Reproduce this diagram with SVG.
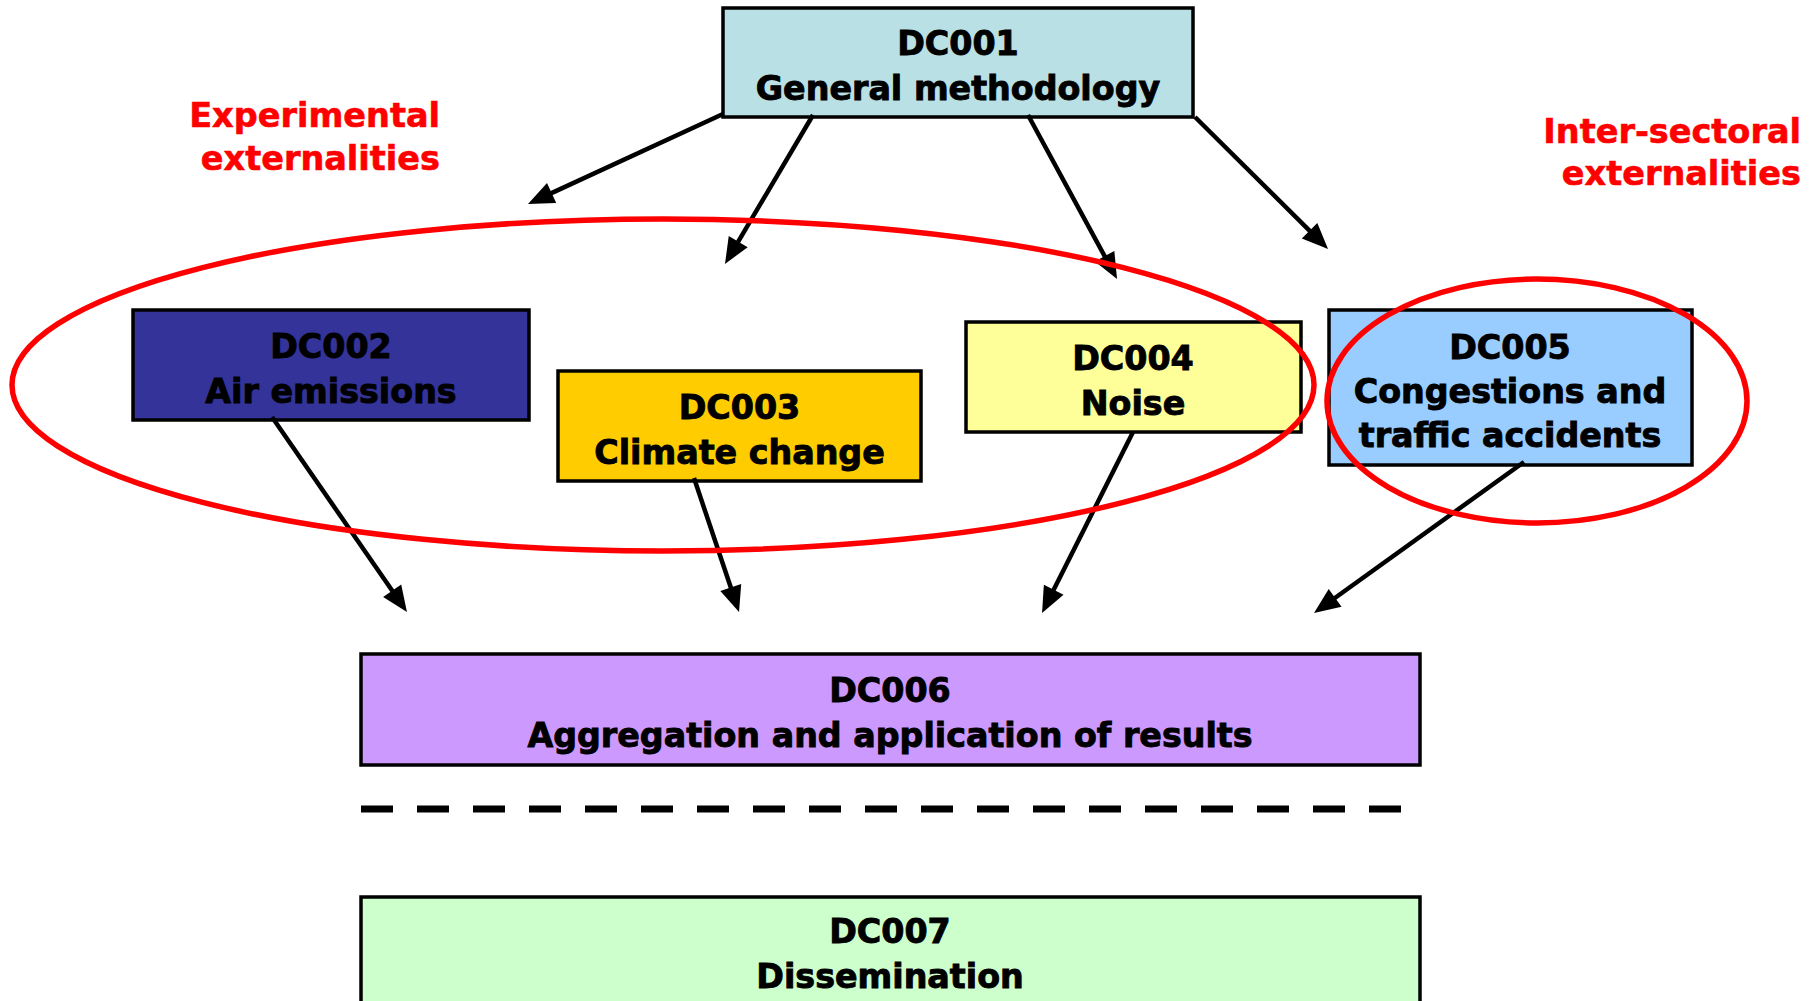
<svg xmlns="http://www.w3.org/2000/svg" width="1820" height="1001" viewBox="0 0 1820 1001">
<style>
.box{stroke:#000;stroke-width:3.5}
.t{font-family:"DejaVu Sans",Verdana,sans-serif;font-weight:bold;font-size:33.3px;text-anchor:middle;fill:#000;stroke:#000;stroke-width:0.9}
.r{font-family:"DejaVu Sans",Verdana,sans-serif;font-weight:bold;font-size:33.5px;text-anchor:end;fill:#FF0000;stroke:#FF0000;stroke-width:0.6}
.c{stroke:#000;stroke-width:4.5;fill:none;marker-end:url(#ah)}
.ell{fill:none;stroke:#FF0000;stroke-width:5.5}
</style>
<defs>
<marker id="ah" markerUnits="userSpaceOnUse" markerWidth="26" markerHeight="22" refX="2" refY="11" orient="auto" overflow="visible">
<path d="M0,0 L26,11 L0,22 z" fill="#000"/>
</marker>
</defs>
<rect width="1820" height="1001" fill="#fff"/>
<g id="DC001"><rect class="box" x="723" y="8" width="470" height="109" fill="#B9E0E4"/><text class="t" x="958" y="55">DC001</text><text class="t" x="958" y="100">General methodology</text></g>
<g id="DC002"><rect class="box" x="133" y="310" width="396" height="110" fill="#333399"/><text class="t" x="331" y="358">DC002</text><text class="t" x="331" y="403">Air emissions</text></g>
<g id="DC003"><rect class="box" x="558" y="371" width="363" height="110" fill="#FFCC00"/><text class="t" x="739.5" y="419">DC003</text><text class="t" x="739.5" y="464">Climate change</text></g>
<g id="DC004"><rect class="box" x="966" y="322" width="335" height="110" fill="#FFFF99"/><text class="t" x="1133" y="370">DC004</text><text class="t" x="1133" y="415">Noise</text></g>
<g id="DC005"><rect class="box" x="1329" y="310" width="363" height="155" fill="#99CCFF"/><text class="t" x="1510" y="359">DC005</text><text class="t" x="1510" y="403">Congestions and</text><text class="t" x="1510" y="447">traffic accidents</text></g>
<g id="DC006"><rect class="box" x="361" y="654" width="1059" height="111" fill="#CC99FF"/><text class="t" x="890" y="702">DC006</text><text class="t" x="890" y="747">Aggregation and application of results</text></g>
<g id="DC007"><rect class="box" x="361" y="897" width="1059" height="130" fill="#CCFFCC"/><text class="t" x="890" y="943">DC007</text><text class="t" x="890" y="988">Dissemination</text></g>
<g id="separator"><line x1="361" y1="809" x2="1401" y2="809" stroke="#000" stroke-width="7" stroke-dasharray="32 24"/></g>
<g id="connectors">
<line class="c" x1="723" y1="114" x2="549.8" y2="193.9"/>
<line class="c" x1="813" y1="115" x2="737.2" y2="243.3"/>
<line class="c" x1="1028" y1="115" x2="1105.6" y2="257.9"/>
<line class="c" x1="1195" y1="117" x2="1311" y2="232.1"/>
<line class="c" x1="272" y1="417" x2="393.3" y2="592.3"/>
<line class="c" x1="694" y1="478" x2="731.4" y2="589.3"/>
<line class="c" x1="1133" y1="432" x2="1052.8" y2="591.6"/>
<line class="c" x1="1524" y1="462" x2="1333.5" y2="599"/>
</g>
<g id="groups">
<ellipse class="ell" cx="663" cy="385" rx="651" ry="166"/>
<ellipse class="ell" cx="1537" cy="401" rx="210" ry="122"/>
</g>
<g id="labels">
<text class="r" x="440" y="127">Experimental</text>
<text class="r" x="440" y="170">externalities</text>
<text class="r" x="1801" y="143">Inter-sectoral</text>
<text class="r" x="1801" y="185">externalities</text>
</g>
</svg>
